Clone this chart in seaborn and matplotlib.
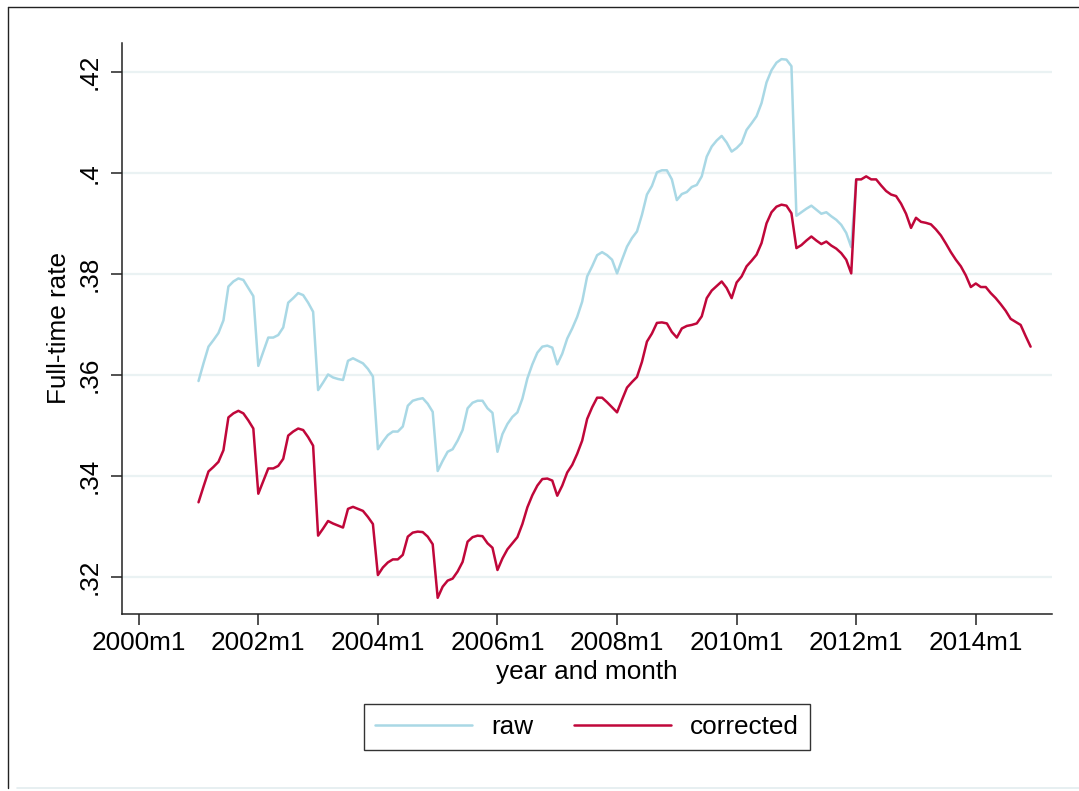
import numpy as np
import pandas as pd
import seaborn as sns
import matplotlib.pyplot as plt
from matplotlib.lines import Line2D

# monthly full-time rate (Jan..Dec each year)
raw_2001 = [0.3588, 0.3623, 0.3656, 0.3669, 0.3683, 0.3708, 0.3775, 0.3785, 0.3791, 0.3788, 0.3772, 0.3756]
raw_2002 = [0.3618, 0.3646, 0.3674, 0.3674, 0.3679, 0.3694, 0.3743, 0.3752, 0.3762, 0.3758, 0.3743, 0.3725]
raw_2003 = [0.3570, 0.3585, 0.3601, 0.3595, 0.3592, 0.3590, 0.3628, 0.3633, 0.3628, 0.3623, 0.3612, 0.3597]
raw_2004 = [0.3453, 0.3468, 0.3481, 0.3488, 0.3488, 0.3498, 0.3539, 0.3549, 0.3552, 0.3554, 0.3543, 0.3527]
raw_2005 = [0.3410, 0.3430, 0.3448, 0.3453, 0.3470, 0.3491, 0.3534, 0.3545, 0.3549, 0.3549, 0.3534, 0.3525]
raw_2006 = [0.3448, 0.3483, 0.3503, 0.3517, 0.3526, 0.3553, 0.3593, 0.3621, 0.3644, 0.3656, 0.3658, 0.3654]
raw_2007 = [0.3621, 0.3642, 0.3672, 0.3692, 0.3715, 0.3745, 0.3795, 0.3815, 0.3837, 0.3843, 0.3837, 0.3828]
raw_2008 = [0.3801, 0.3828, 0.3854, 0.3871, 0.3884, 0.3917, 0.3957, 0.3974, 0.4001, 0.4005, 0.4005, 0.3987]
raw_2009 = [0.3946, 0.3958, 0.3962, 0.3972, 0.3976, 0.3993, 0.4032, 0.4052, 0.4064, 0.4073, 0.4060, 0.4042]
raw_2010 = [0.4049, 0.4059, 0.4085, 0.4098, 0.4112, 0.4138, 0.4179, 0.4203, 0.4218, 0.4225, 0.4224, 0.4211]
raw_2011 = [0.3915, 0.3922, 0.3929, 0.3935, 0.3927, 0.3919, 0.3922, 0.3914, 0.3907, 0.3897, 0.3881, 0.3853]
raw_2012 = [0.3987]

cor_2001 = [0.3348, 0.3379, 0.3409, 0.3418, 0.3428, 0.3451, 0.3516, 0.3524, 0.3529, 0.3524, 0.3510, 0.3494]
cor_2002 = [0.3365, 0.3390, 0.3415, 0.3415, 0.3420, 0.3434, 0.3480, 0.3488, 0.3494, 0.3491, 0.3477, 0.3460]
cor_2003 = [0.3282, 0.3296, 0.3311, 0.3306, 0.3302, 0.3298, 0.3335, 0.3339, 0.3335, 0.3331, 0.3319, 0.3305]
cor_2004 = [0.3204, 0.3219, 0.3229, 0.3235, 0.3235, 0.3244, 0.3280, 0.3288, 0.3290, 0.3289, 0.3280, 0.3265]
cor_2005 = [0.3159, 0.3181, 0.3193, 0.3197, 0.3211, 0.3230, 0.3270, 0.3279, 0.3282, 0.3281, 0.3267, 0.3258]
cor_2006 = [0.3214, 0.3237, 0.3255, 0.3267, 0.3279, 0.3305, 0.3338, 0.3362, 0.3381, 0.3394, 0.3395, 0.3391]
cor_2007 = [0.3361, 0.3381, 0.3407, 0.3422, 0.3444, 0.3470, 0.3513, 0.3536, 0.3555, 0.3555, 0.3546, 0.3536]
cor_2008 = [0.3526, 0.3551, 0.3575, 0.3586, 0.3596, 0.3626, 0.3666, 0.3682, 0.3703, 0.3704, 0.3702, 0.3685]
cor_2009 = [0.3674, 0.3692, 0.3697, 0.3699, 0.3702, 0.3716, 0.3752, 0.3767, 0.3776, 0.3785, 0.3772, 0.3752]
cor_2010 = [0.3783, 0.3795, 0.3815, 0.3826, 0.3838, 0.3861, 0.3900, 0.3922, 0.3933, 0.3937, 0.3935, 0.3920]
cor_2011 = [0.3851, 0.3857, 0.3866, 0.3874, 0.3866, 0.3859, 0.3864, 0.3856, 0.3850, 0.3841, 0.3828, 0.3801]
cor_2012 = [0.3987, 0.3987, 0.3993, 0.3987, 0.3987, 0.3975, 0.3964, 0.3957, 0.3954, 0.3939, 0.3919, 0.3891]
cor_2013 = [0.3911, 0.3903, 0.3901, 0.3898, 0.3888, 0.3876, 0.3860, 0.3843, 0.3828, 0.3815, 0.3797, 0.3774]
cor_2014 = [0.3781, 0.3774, 0.3774, 0.3762, 0.3752, 0.3740, 0.3727, 0.3711, 0.3705, 0.3699, 0.3677, 0.3656]

first_year = 2001
base_year = 2000
xtick_years = [2000, 2002, 2004, 2006, 2008, 2010, 2012, 2014]
xtick_labels = ["2000m1", "2002m1", "2004m1", "2006m1", "2008m1", "2010m1", "2012m1", "2014m1"]
ytick_vals = [0.32, 0.34, 0.36, 0.38, 0.40, 0.42]
ytick_labels = [".32", ".34", ".36", ".38", ".4", ".42"]

raw = (raw_2001 + raw_2002 + raw_2003 + raw_2004 + raw_2005 + raw_2006 + raw_2007
       + raw_2008 + raw_2009 + raw_2010 + raw_2011 + raw_2012)
corrected = (cor_2001 + cor_2002 + cor_2003 + cor_2004 + cor_2005 + cor_2006 + cor_2007
             + cor_2008 + cor_2009 + cor_2010 + cor_2011 + cor_2012 + cor_2013 + cor_2014)

start = (first_year - base_year) * 12  # months since 2000m1
df = pd.concat([
    pd.DataFrame({"month": np.arange(len(raw)) + start, "rate": raw, "series": "raw"}),
    pd.DataFrame({"month": np.arange(len(corrected)) + start, "rate": corrected, "series": "corrected"}),
], ignore_index=True)

sns.set_theme(style="white")
plt.rcParams['font.family'] = ['Liberation Sans', 'DejaVu Sans']
plt.rcParams['text.color'] = 'black'
plt.rcParams['axes.labelcolor'] = 'black'
plt.rcParams['xtick.color'] = 'black'
plt.rcParams['ytick.color'] = 'black'
fs = 18.8

fig = plt.figure(figsize=(10.79, 7.91), dpi=100)
ax = fig.add_axes([0.1131, 0.2238, 0.8619, 0.7219])

pal = {"raw": "#a9d8e5", "corrected": "#c0073a"}
sns.lineplot(data=df, x="month", y="rate", hue="series", hue_order=["raw", "corrected"],
             palette=pal, linewidth=1.8, ax=ax)

ax.set_xlim(-3.35, 183.3)
ax.set_ylim(0.3127, 0.4257)

ax.set_xticks([(y - base_year) * 12 for y in xtick_years])
ax.set_xticklabels(xtick_labels, fontsize=fs)
ax.set_yticks(ytick_vals)
ax.set_yticklabels(ytick_labels, fontsize=fs, rotation=90, va="center")

ax.tick_params(axis="both", which="major", direction="out", length=8, width=1.1,
               color="#222222", labelcolor="black", left=True, bottom=True)
ax.tick_params(axis="x", pad=4)
ax.tick_params(axis="y", pad=7)

ax.yaxis.grid(True, color="#eaf2f3", linewidth=1.6)
ax.xaxis.grid(False)
ax.set_axisbelow(True)

for s in ["top", "right"]:
    ax.spines[s].set_visible(False)
for s in ["left", "bottom"]:
    ax.spines[s].set_color("#222222")
    ax.spines[s].set_linewidth(1.1)

ax.set_xlabel("year and month", fontsize=fs, labelpad=4, color="black")
ax.set_ylabel("Full-time rate", fontsize=fs, labelpad=4.5, color="black")

sns.move_legend(ax, "center", bbox_to_anchor=(0.5, -0.198), ncol=2, title=None,
                frameon=True, fancybox=False, fontsize=fs, handlelength=3.7,
                handletextpad=0.75, columnspacing=1.55, borderpad=0.42)
leg = ax.get_legend()
leg.get_frame().set_edgecolor("black")
leg.get_frame().set_linewidth(1.0)
for t in leg.get_texts():
    t.set_color("black")
for h in leg.get_lines():
    h.set_linewidth(1.8)

# outer graph border (cut on the right side)
fig.add_artist(Line2D([8.3 / 1079, 8.3 / 1079], [1 - 6.7 / 791, 1 - 788 / 791],
                      transform=fig.transFigure, color="#222222", lw=1.0))
fig.add_artist(Line2D([8.3 / 1079, 1.0], [1 - 6.7 / 791, 1 - 6.7 / 791],
                      transform=fig.transFigure, color="#222222", lw=1.0))
fig.add_artist(Line2D([17 / 1079, 1.0], [1 - 788 / 791, 1 - 788 / 791],
                      transform=fig.transFigure, color="#e3ecef", lw=1.2))

fig.savefig("out.png", dpi=100)
